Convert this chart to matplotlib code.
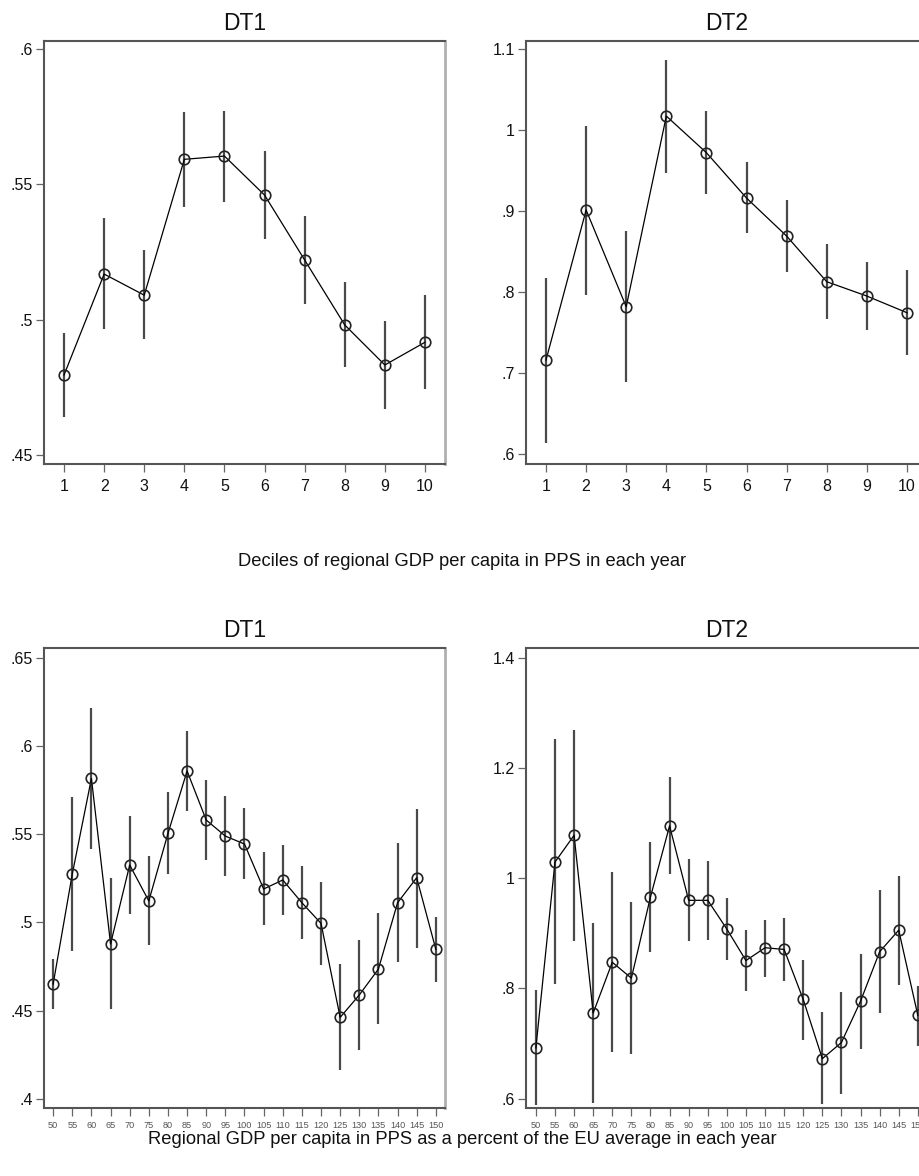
import matplotlib
matplotlib.use('Agg')
from matplotlib import pyplot as plt
from matplotlib.ticker import FixedLocator, FixedFormatter

plt.rcParams['font.family'] = ['Liberation Sans', 'DejaVu Sans']

# Deciles panels
deciles = [1, 2, 3, 4, 5, 6, 7, 8, 9, 10]

dec_dt1 = [0.4796, 0.5169, 0.5091, 0.5593, 0.5605, 0.5461, 0.5221, 0.4981, 0.4833, 0.4917]
dec_dt1_lo = [0.4642, 0.4965, 0.4928, 0.5416, 0.5436, 0.5297, 0.5058, 0.4824, 0.4672, 0.4743]
dec_dt1_hi = [0.4952, 0.5375, 0.5257, 0.5768, 0.5772, 0.5623, 0.5385, 0.5139, 0.4997, 0.5091]

dec_dt2 = [0.7161, 0.9015, 0.7820, 1.0176, 0.9723, 0.9163, 0.8693, 0.8129, 0.7952, 0.7746]
dec_dt2_lo = [0.6140, 0.7964, 0.6893, 0.9475, 0.9212, 0.8727, 0.8245, 0.7668, 0.7532, 0.7223]
dec_dt2_hi = [0.8178, 1.0056, 0.8755, 1.0868, 1.0241, 0.9604, 0.9138, 0.8591, 0.8368, 0.8273]

# GDP per capita as percent of EU average
pct = [50, 55, 60, 65, 70, 75, 80, 85, 90, 95, 100,
       105, 110, 115, 120, 125, 130, 135, 140, 145, 150]

pct_dt1 = [0.4650, 0.5274, 0.5816, 0.4877, 0.5325, 0.5121, 0.5504, 0.5858, 0.5580, 0.5489, 0.5444,
           0.5189, 0.5240, 0.5111, 0.4994, 0.4461, 0.4588, 0.4735, 0.5111, 0.5253, 0.4847]
pct_dt1_lo = [0.4506, 0.4837, 0.5413, 0.4506, 0.5047, 0.4871, 0.5272, 0.5631, 0.5353, 0.5264, 0.5243,
              0.4985, 0.5041, 0.4903, 0.4756, 0.4163, 0.4276, 0.4421, 0.4773, 0.4856, 0.4663]
pct_dt1_hi = [0.4792, 0.5712, 0.6217, 0.5249, 0.5602, 0.5376, 0.5740, 0.6084, 0.5807, 0.5718, 0.5650,
              0.5396, 0.5436, 0.5321, 0.5230, 0.4763, 0.4900, 0.5051, 0.5451, 0.5642, 0.5032]

pct_dt2 = [0.6921, 1.0292, 1.0777, 0.7553, 0.8474, 0.8186, 0.9659, 1.0949, 0.9598, 0.9598, 0.9076,
           0.8505, 0.8738, 0.8707, 0.7799, 0.6725, 0.7019, 0.7768, 0.8665, 0.9057, 0.7510]
pct_dt2_lo = [0.5877, 0.8081, 0.8861, 0.5914, 0.6853, 0.6804, 0.8658, 1.0077, 0.8861, 0.8880, 0.8511,
              0.7959, 0.8204, 0.8137, 0.7068, 0.5896, 0.6080, 0.6909, 0.7553, 0.8063, 0.6958]
pct_dt2_hi = [0.7971, 1.2526, 1.2686, 0.9193, 1.0107, 0.9567, 1.0660, 1.1827, 1.0347, 1.0304, 0.9641,
              0.9064, 0.9248, 0.9279, 0.8523, 0.7572, 0.7940, 0.8628, 0.9782, 1.0046, 0.8045]

# y tick labels (Stata style, no leading zero)
yt_dec_dt1 = [0.45, 0.5, 0.55, 0.6]
yl_dec_dt1 = ['.45', '.5', '.55', '.6']
yt_dec_dt2 = [0.6, 0.7, 0.8, 0.9, 1.0, 1.1]
yl_dec_dt2 = ['.6', '.7', '.8', '.9', '1', '1.1']
yt_pct_dt1 = [0.4, 0.45, 0.5, 0.55, 0.6, 0.65]
yl_pct_dt1 = ['.4', '.45', '.5', '.55', '.6', '.65']
yt_pct_dt2 = [0.6, 0.8, 1.0, 1.2, 1.4]
yl_pct_dt2 = ['.6', '.8', '1', '1.2', '1.4']

FRAME = '#555555'
FRAME_RIGHT = '#b0b0b0'
TXT = '#111111'


def draw_panel(ax, x, y, lo, hi, title, yticks, ylabels, ylim, xlim, small_x=False):
    ax.vlines(x, lo, hi, colors='#4a4a4a', linewidth=1.6, zorder=2)
    ax.plot(x, y, color='black', linewidth=0.9, marker='o', markersize=7.6,
            markerfacecolor='none', markeredgecolor='#222222', markeredgewidth=1.2, zorder=3)
    ax.set_xlim(xlim)
    ax.set_ylim(ylim)
    ax.yaxis.set_major_locator(FixedLocator(yticks))
    ax.yaxis.set_major_formatter(FixedFormatter(ylabels))
    ax.xaxis.set_major_locator(FixedLocator(x))
    ax.xaxis.set_major_formatter(FixedFormatter([str(v) for v in x]))
    ax.set_title(title, fontsize=16.5, color=TXT, pad=8)
    for side in ['left', 'bottom', 'top']:
        ax.spines[side].set_color(FRAME)
        ax.spines[side].set_linewidth(1.5)
    ax.spines['right'].set_color(FRAME_RIGHT)
    ax.spines['right'].set_linewidth(2.0)
    ax.tick_params(axis='y', length=6, width=0.9, color='#666666', labelsize=11.5,
                   labelcolor=TXT, pad=2)
    if small_x:
        ax.tick_params(axis='x', length=6, width=0.9, color='#666666', labelsize=6.6,
                       labelcolor='#555555', pad=3)
    else:
        ax.tick_params(axis='x', length=6, width=0.9, color='#666666', labelsize=11.5,
                       labelcolor=TXT, pad=5)


def main():
    fig = plt.figure(figsize=(9.2, 11.76), dpi=100)
    fig.patch.set_facecolor('white')

    w = 0.4359
    ax1 = fig.add_axes([0.0478, 0.6054, w, 0.3597])
    ax2 = fig.add_axes([0.5717, 0.6054, w, 0.3597])
    ax3 = fig.add_axes([0.0478, 0.0578, w, 0.3914])
    ax4 = fig.add_axes([0.5717, 0.0578, w, 0.3914])

    draw_panel(ax1, deciles, dec_dt1, dec_dt1_lo, dec_dt1_hi, 'DT1',
               yt_dec_dt1, yl_dec_dt1, (0.4467, 0.603), (0.5, 10.5))
    draw_panel(ax2, deciles, dec_dt2, dec_dt2_lo, dec_dt2_hi, 'DT2',
               yt_dec_dt2, yl_dec_dt2, (0.5876, 1.1103), (0.5, 10.5))
    draw_panel(ax3, pct, pct_dt1, pct_dt1_lo, pct_dt1_hi, 'DT1',
               yt_pct_dt1, yl_pct_dt1, (0.3947, 0.6557), (47.6, 152.4), small_x=True)
    draw_panel(ax4, pct, pct_dt2, pct_dt2_lo, pct_dt2_hi, 'DT2',
               yt_pct_dt2, yl_pct_dt2, (0.583, 1.418), (47.4, 152.4), small_x=True)

    fig.text(0.502, 1 - 561 / 1176, 'Deciles of regional GDP per capita in PPS in each year',
             ha='center', va='center', fontsize=13.2, color=TXT)
    fig.text(0.502, 1 - 1139 / 1176,
             'Regional GDP per capita in PPS as a percent of the EU average in each year',
             ha='center', va='center', fontsize=13.2, color=TXT)

    fig.savefig('out.png', dpi=100, facecolor='white')


if __name__ == '__main__':
    main()
